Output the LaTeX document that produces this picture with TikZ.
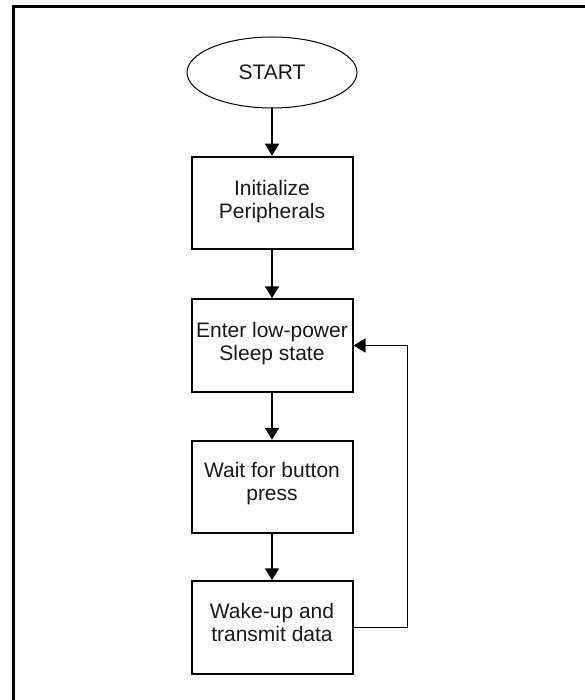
\documentclass[tikz,border=0pt]{standalone}
\usepackage{fontspec}
\setmainfont{Liberation Sans}
\usetikzlibrary{arrows.meta,shapes.geometric}
\begin{document}
\begin{tikzpicture}[x=1pt,y=-1pt,
  stepbox/.style={draw=black,line width=2pt,minimum width=161pt,minimum height=92.5pt,inner sep=0pt},
  txt/.style={align=center,font=\fontsize{21pt}{23pt}\selectfont,inner sep=0pt,text=black!90},
  arr/.style={line width=1.6pt,-{Triangle[length=12pt,width=14pt]}},
  startshape/.style={draw=black,line width=1pt,ellipse,minimum width=170pt,minimum height=71pt,inner sep=0pt,font=\fontsize{21pt}{23pt}\selectfont,text=black!90}]
\useasboundingbox (0,0) rectangle (585,700);
\fill[white] (0,0) rectangle (585,700);
\draw[line width=2.4pt] (585,6.7) -- (13.3,6.7) -- (13.3,700);
\node[startshape] (s) at (272,72.5) {START};
\node[stepbox] (b1) at (272,203) {};
\node[stepbox] (b2) at (272,345.5) {};
\node[stepbox] (b3) at (272,487) {};
\node[stepbox] (b4) at (272,627.5) {};
\node[txt] (t1) at (272,201.5) {Initialize\\Peripherals};
\node[txt] (t2) at (272,343.5) {Enter low-power\\Sleep state};
\node[txt] (t3) at (272,483.5) {Wait for button\\press};
\node[txt] (t4) at (272,622) {Wake-up and\\transmit data};
\draw[arr] (s.south) -- (b1.north);
\draw[arr] (b1.south) -- (b2.north);
\draw[arr] (b2.south) -- (b3.north);
\draw[arr] (b3.south) -- (b4.north);
\draw[arr] (b4.east) -- ++(54,0) |- (b2.east);
\end{tikzpicture}
\end{document}
